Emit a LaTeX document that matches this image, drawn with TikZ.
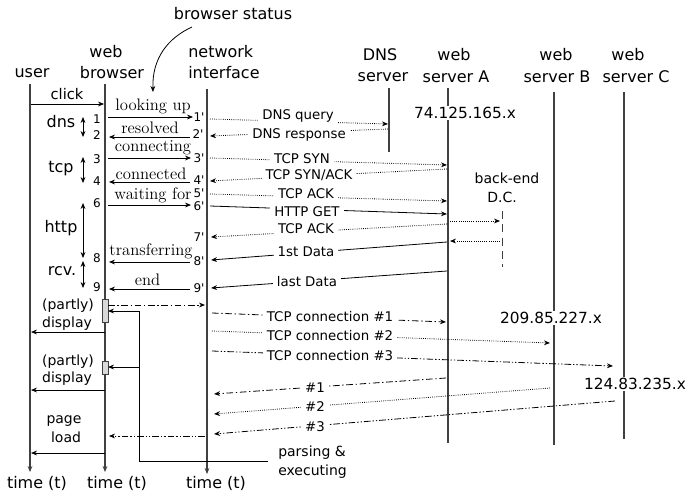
\documentclass[tikz,border=0pt]{standalone}
\usepackage{fontspec}
\setsansfont{DejaVu Sans}
\usetikzlibrary{arrows.meta}
\newcommand{\pr}{\textquotesingle}
\tikzset{
  life/.style={draw=black!75, line width=0.8pt},
  lifearr/.style={life, -{Stealth[length=4.5pt,width=3.6pt]}},
  msg/.style={-{Stealth[length=4.5pt,width=3.6pt]}, line width=0.6pt},
  dbl/.style={{Stealth[length=4.5pt,width=3.6pt]}-{Stealth[length=4.5pt,width=3.6pt]}, line width=0.6pt},
  dots/.style={dash pattern=on 0.6pt off 1pt},
  dashdot/.style={dash pattern=on 5pt off 2pt on 1pt off 2pt},
  dashdotdot/.style={dash pattern=on 5pt off 1.5pt on 1pt off 1.5pt on 1pt off 1.5pt},
  hdr/.style={font=\sffamily\fontsize{12}{14}\selectfont, inner sep=0pt},
  side/.style={font=\sffamily\fontsize{10.5}{12}\selectfont, inner sep=0pt},
  lbl/.style={font=\sffamily\fontsize{10}{12}\selectfont, fill=white, inner xsep=3pt, inner ysep=1pt},
  num/.style={font=\sffamily\fontsize{9}{10}\selectfont, inner sep=0pt},
  st/.style={font=\fontsize{12.5}{14}\selectfont, inner sep=0pt},
  ip/.style={font=\sffamily\fontsize{11.5}{13}\selectfont, fill=white, inner sep=1pt},
  boxbar/.style={draw=black!75, fill=black!15, line width=0.6pt},
}
\begin{document}
\begin{tikzpicture}[x=0.75pt,y=-0.75pt]
\useasboundingbox (0,0) rectangle (692,496);

% ---------- coordinates ----------
\foreach \n/\x/\y in {
  uT/30/84, uB/30/472, bT/105/84, bB/105/472, nT/207/89, nB/207/474,
  dT/389/88, dB/389/152, aT/448/88, aB/448/443, bbT/554/92, bbB/554/445,
  cT/624/92, cB/624/439, eT/502/211, eB/502/267,
  ck1/31/104, ck2/104/104,
  dn1/83/117, dn2/83/137, tc1/83/157, tc2/83/183, ht1/83/203, ht2/83/258, rc1/83/261, rc2/83/288,
  lu1/108/117, lu2/193/117, rs1/190/137, rs2/109/137, cn1/108/158, cn2/191/158,
  cd1/190/182, cd2/109/182, wf1/108/205, wf2/191/205, tf1/190/262, tf2/109/262,
  en1/190/289, en2/109/289,
  q1/210/119, q2/388/124, r1/388/129, r2/210/136, s1/210/158, s2/447/165,
  sa1/447/169, sa2/210/181, ak1/210/194, ak2/447/201, g1/210/206, g2/447/214,
  bf1/450/221, bf2/500/221, a21/447/224, a22/211/237, bk1/500/241, bk2/450/241,
  d11/447/242, d12/211/260, dl1/447/271, dl2/211/288,
  rq1/108/305, rq2/205/305,
  pe/268/461, pc/139/461, pt/139/311, pa/108/311, pm/139/367, pb/108/367,
  ds1/105/332, ds2/31/332, dt1/105/390, dt2/31/390, lo1/105/453, lo2/31/453,
  rt1/205/436, rt2/109/436,
  t11/212/313, t12/446/322, t21/212/331, t22/550/343, t31/212/351, t32/613/366,
  r11/446/378, r12/214/394, r21/550/388, r22/214/414, r31/615/401, r32/214/434,
  st1/192/27, st2/153/92}
  \coordinate (\n) at (\x,\y);

% ---------- lifelines ----------
\draw[lifearr] (uT) -- (uB);
\draw[lifearr] (bT) -- (bB);
\draw[lifearr] (nT) -- (nB);
\draw[life] (dT) -- (dB);
\draw[life] (aT) -- (aB);
\draw[life] (bbT) -- (bbB);
\draw[life] (cT) -- (cB);
\draw[life, dash pattern=on 6pt off 4pt, line width=0.6pt] (eT) -- (eB);

% ---------- headers ----------
\node[hdr] (hstatus) at (233,14) {browser status};
\node[hdr] (huser) at (32,73) {user};
\node[hdr] (hweb) at (106,52) {web};
\node[hdr] (hbrowser) at (112,73) {browser};
\node[hdr, anchor=west] (hnet) at (188,52) {network};
\node[hdr, anchor=west] (hintf) at (188,73) {interface};
\node[hdr] (hdns) at (380,55) {DNS};
\node[hdr] (hdnss) at (383,77) {server};
\node[hdr] (hwa) at (454,55) {web};
\node[hdr] (hsa) at (456,77) {server A};
\node[hdr] (hwb) at (556,55) {web};
\node[hdr] (hsb) at (557,77) {server B};
\node[hdr] (hwc) at (628,55) {web};
\node[hdr] (hsc) at (636,77) {server C};
\draw[msg] (st1) .. controls (168,38) and (152,58) .. (st2);

% ---------- user / browser ----------
\node[side, font=\sffamily\fontsize{11}{12}\selectfont] (tclick) at (67,94) {click};
\draw[msg] (ck1) -- (ck2);
\node[hdr] (tdns) at (61,122) {dns};
\node[hdr] (ttcp) at (61,169) {tcp};
\node[hdr] (thttp) at (61,228) {http};
\node[hdr] (trcv) at (62,271) {rcv.};
\draw[dbl] (dn1) -- (dn2);
\draw[dbl] (tc1) -- (tc2);
\draw[dbl] (ht1) -- (ht2);
\draw[dbl] (rc1) -- (rc2);
\node[num] (n1) at (97,119) {1};
\node[num] (n2) at (97,135) {2};
\node[num] (n3) at (97,159) {3};
\node[num] (n4) at (97,181) {4};
\node[num] (n6) at (97,203) {6};
\node[num] (n8) at (97,258) {8};
\node[num] (n9) at (97,287) {9};
\node[num] (p1) at (199,117) {1\pr};
\node[num] (p2) at (198,134) {2\pr};
\node[num] (p3) at (199,158) {3\pr};
\node[num] (p4) at (199,180) {4\pr};
\node[num] (p5) at (199,193) {5\pr};
\node[num] (p6) at (199,206) {6\pr};
\node[num] (p7) at (199,237) {7\pr};
\node[num] (p8) at (199,261) {8\pr};
\node[num] (p9) at (199,288) {9\pr};

\node[st] (slu) at (153,106) {looking up};
\node[st] (srs) at (150,128) {resolved};
\node[st] (scn) at (153,148) {connecting};
\node[st] (scd) at (151,173.5) {connected};
\node[st] (swf) at (153,195.5) {waiting for};
\node[st] (stf) at (151,251.5) {transferring};
\node[st] (sen) at (147.5,280) {end};
\draw[msg] (lu1) -- (lu2);
\draw[msg] (rs1) -- (rs2);
\draw[msg] (cn1) -- (cn2);
\draw[msg] (cd1) -- (cd2);
\draw[msg] (wf1) -- (wf2);
\draw[msg] (tf1) -- (tf2);
\draw[msg] (en1) -- (en2);

% ---------- network side messages ----------
\draw[msg, dots] (q1) -- (q2);
\draw[msg, dots] (r1) -- (r2);
\draw[msg, dots] (s1) -- (s2);
\draw[msg, dots] (sa1) -- (sa2);
\draw[msg, dots] (ak1) -- (ak2);
\draw[msg] (g1) -- (g2);
\draw[msg, dots] (bf1) -- (bf2);
\draw[msg, dots] (a21) -- (a22);
\draw[msg, dots] (bk1) -- (bk2);
\draw[msg] (d11) -- (d12);
\draw[msg] (dl1) -- (dl2);
\node[lbl] (lq) at (298,116) {DNS query};
\node[lbl] (lr) at (299,135) {DNS response};
\node[lbl] (ls) at (302,159) {TCP SYN};
\node[lbl] (lsa) at (309,175) {TCP SYN/ACK};
\node[lbl] (lak) at (306,194) {TCP ACK};
\node[lbl] (lg) at (307,212) {HTTP GET};
\node[lbl] (la2) at (306,229) {TCP ACK};
\node[lbl] (lfirst) at (306,252) {1st Data};
\node[lbl] (llast) at (307,282) {last Data};
\node[side] (tbe) at (507,178) {back-end};
\node[side] (tdc) at (502,197) {D.C.};

% ---------- rendering part ----------
\draw[boxbar] (102,299) rectangle (108,322);
\draw[boxbar] (102,361) rectangle (108,374);
\draw[msg, dashdot] (rq1) -- (rq2);
\draw[line width=0.6pt] (pe) -- (pc) -- (pt);
\draw[msg] (pt) -- (pa);
\draw[msg] (pm) -- (pb);
\draw[msg] (ds1) -- (ds2);
\draw[msg] (dt1) -- (dt2);
\draw[msg] (lo1) -- (lo2);
\draw[msg, dashdotdot] (rt1) -- (rt2);
\node[side] (tpd1) at (68,305.5) {(partly)};
\node[side] (tds1) at (67,323.5) {display};
\node[side] (tpd2) at (68,361.5) {(partly)};
\node[side] (tds2) at (67,379) {display};
\node[side] (tpg) at (64,421.5) {page};
\node[side] (tld) at (66,437.5) {load};
\node[side, anchor=west] (tpar) at (278,453) {parsing \&};
\node[side, anchor=west] (texe) at (278,472) {executing};
\node[hdr] (time1) at (37,483.5) {time (t)};
\node[hdr] (time2) at (117,483.5) {time (t)};
\node[hdr] (time3) at (216,483.5) {time (t)};

% ---------- TCP connections ----------
\draw[msg, dashdot] (t11) -- (t12);
\draw[msg, dots] (t21) -- (t22);
\draw[msg, dashdotdot] (t31) -- (t32);
\draw[msg, dashdot] (r11) -- (r12);
\draw[msg, dots] (r21) -- (r22);
\draw[msg, dashdotdot] (r31) -- (r32);
\node[lbl] (lt1) at (330,317) {TCP connection \#1};
\node[lbl] (lt2) at (330,336) {TCP connection \#2};
\node[lbl] (lt3) at (330,356) {TCP connection \#3};
\node[lbl] (lr1) at (315,388) {\#1};
\node[lbl] (lr2) at (315,407) {\#2};
\node[lbl] (lr3) at (315,427) {\#3};

% ---------- IP labels ----------
\node[ip] (ipa) at (465,113) {74.125.165.x};
\node[ip] (ipb) at (551,318) {209.85.227.x};
\node[ip] (ipc) at (635,384) {124.83.235.x};
\end{tikzpicture}
\end{document}
